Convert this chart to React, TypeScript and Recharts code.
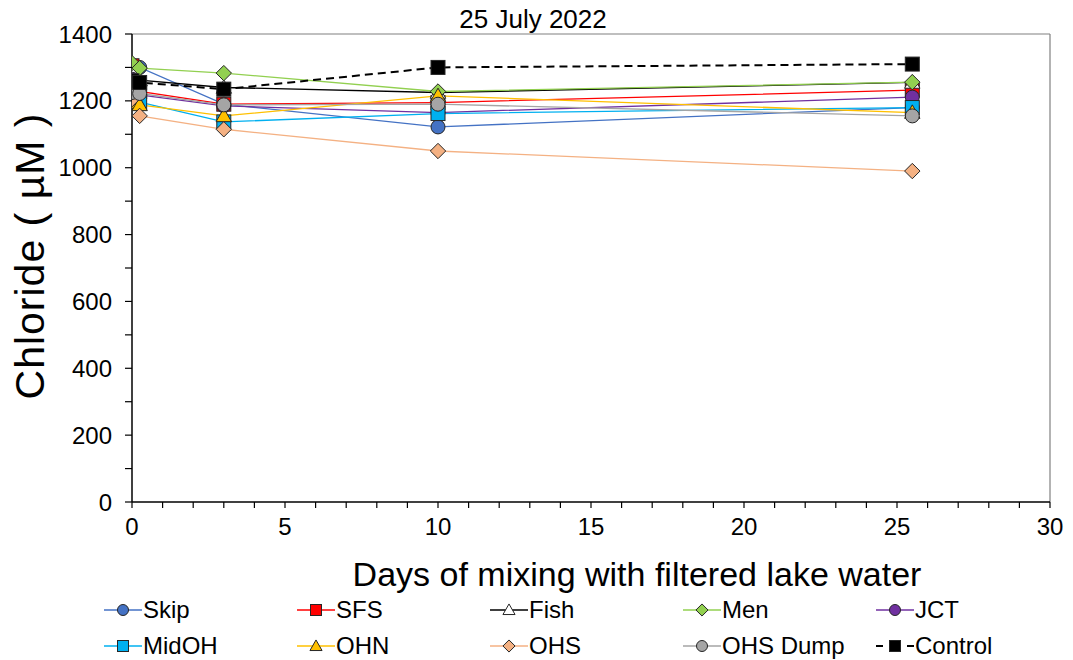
import React from 'react';
import { LineChart, Line, XAxis, YAxis, ReferenceLine } from 'recharts';

const days = [0, 0.25, 3, 10, 25.5];
const skip = [1295, 1300, 1190, 1122, 1180];
const sfs = [1305, 1228, 1190, 1195, 1232];
const fish = [1290, 1262, 1240, 1225, 1255];
const men = [1313, 1298, 1283, 1228, 1256];
const jct = [1265, 1218, 1185, 1165, 1211];
const midoh = [1205, 1196, 1137, 1162, 1180];
const ohn = [1195, 1188, 1155, 1215, 1165];
const ohs = [1205, 1155, 1115, 1050, 990];
const ohsDump = [1225, 1222, 1188, 1190, 1155];
const control = [1260, 1255, 1235, 1300, 1310];

const xTicks = Array.from({ length: 31 }, (_, i) => i);
const yTicks = Array.from({ length: 15 }, (_, i) => i * 100);

type Shape = 'circle' | 'square' | 'triangle' | 'diamond';
interface SeriesDef { key: string; name: string; values: number[]; line: string; fill: string; shape: Shape; dashed?: boolean; width?: number; }

const series: SeriesDef[] = [
  { key: 'skip', name: 'Skip', values: skip, line: '#4472C4', fill: '#4472C4', shape: 'circle' },
  { key: 'sfs', name: 'SFS', values: sfs, line: '#FF0000', fill: '#FF0000', shape: 'square' },
  { key: 'fish', name: 'Fish', values: fish, line: '#000000', fill: '#FFFFFF', shape: 'triangle' },
  { key: 'men', name: 'Men', values: men, line: '#92D050', fill: '#92D050', shape: 'diamond' },
  { key: 'jct', name: 'JCT', values: jct, line: '#7030A0', fill: '#7030A0', shape: 'circle' },
  { key: 'midoh', name: 'MidOH', values: midoh, line: '#00B0F0', fill: '#00B0F0', shape: 'square' },
  { key: 'ohn', name: 'OHN', values: ohn, line: '#FFC000', fill: '#FFC000', shape: 'triangle' },
  { key: 'ohs', name: 'OHS', values: ohs, line: '#F4B183', fill: '#F4B183', shape: 'diamond' },
  { key: 'ohsDump', name: 'OHS Dump', values: ohsDump, line: '#A5A5A5', fill: '#A5A5A5', shape: 'circle' },
  { key: 'control', name: 'Control', values: control, line: '#000000', fill: '#000000', shape: 'square', dashed: true, width: 2 },
];

const data = days.map((d, i) => {
  const row: Record<string, number> = { day: d };
  series.forEach((s) => { row[s.key] = s.values[i]; });
  return row;
});

function MarkerShape({ cx, cy, shape, fill, size }: { cx: number; cy: number; shape: Shape; fill: string; size: number }) {
  const h = size / 2;
  const stroke = '#262626';
  if (shape === 'circle') return <circle cx={cx} cy={cy} r={h} fill={fill} stroke={stroke} strokeWidth={1} />;
  if (shape === 'square') return <rect x={cx - h} y={cy - h} width={size} height={size} fill={fill} stroke={stroke} strokeWidth={1} />;
  if (shape === 'triangle') {
    const t = size * 0.55;
    return <polygon points={`${cx},${cy - t} ${cx + t},${cy + t * 0.75} ${cx - t},${cy + t * 0.75}`} fill={fill} stroke={stroke} strokeWidth={1} />;
  }
  const d = size * 0.55;
  return <polygon points={`${cx},${cy - d} ${cx + d},${cy} ${cx},${cy + d} ${cx - d},${cy}`} fill={fill} stroke={stroke} strokeWidth={1} />;
}

const makeDot = (s: SeriesDef) => (p: any) => {
  if (p.cx == null || p.cy == null) return <g key={`e-${s.key}-${p.index}`} />;
  return (
    <g key={`${s.key}-${p.index}`}>
      <MarkerShape cx={p.cx} cy={p.cy} shape={s.shape} fill={s.fill} size={14} />
    </g>
  );
};

const font = '"Liberation Sans", Arial, sans-serif';

function LegendItem({ s }: { s: SeriesDef }) {
  return (
    <div style={{ display: 'flex', alignItems: 'center', height: 36 }}>
      <svg width={38} height={20} style={{ flex: 'none' }}>
        {s.dashed ? (
          <>
            <line x1={0} y1={10} x2={7} y2={10} stroke={s.line} strokeWidth={2} />
            <line x1={31} y1={10} x2={38} y2={10} stroke={s.line} strokeWidth={2} />
          </>
        ) : (
          <line x1={0} y1={10} x2={38} y2={10} stroke={s.line} strokeWidth={1.3} />
        )}
        <MarkerShape cx={19} cy={10} shape={s.shape} fill={s.fill} size={11} />
      </svg>
      <span style={{ marginLeft: 1, fontSize: 24, fontFamily: font, color: '#000', whiteSpace: 'nowrap' }}>{s.name}</span>
    </div>
  );
}

export default function App() {
  const tickStyle = { fontSize: 24, fill: '#000', fontFamily: font };
  return (
    <div style={{ position: 'absolute', left: 0, top: 0, width: 1073, height: 660, background: '#fff', fontFamily: font }}>
      <LineChart width={1073} height={660} data={data} margin={{ top: 34, right: 23, left: 0, bottom: 108 }}>
        <XAxis
          dataKey="day"
          type="number"
          domain={[0, 30]}
          ticks={xTicks}
          interval={0}
          tickFormatter={(v: number) => (v % 5 === 0 ? String(v) : '')}
          tick={tickStyle}
          tickSize={6}
          tickMargin={10}
          height={50}
          axisLine={{ stroke: '#000', strokeWidth: 1.5 }}
          tickLine={{ stroke: '#000', strokeWidth: 1.2 }}
          allowDataOverflow
        />
        <YAxis
          type="number"
          domain={[0, 1400]}
          ticks={yTicks}
          interval={0}
          tickFormatter={(v: number) => (v % 200 === 0 ? String(v) : '')}
          tick={tickStyle}
          tickSize={7}
          tickMargin={13}
          width={132}
          axisLine={{ stroke: '#000', strokeWidth: 1.5 }}
          tickLine={{ stroke: '#000', strokeWidth: 1.2 }}
          allowDataOverflow
        />
        <ReferenceLine y={1400} stroke="#808080" strokeWidth={1.2} />
        <ReferenceLine x={30} stroke="#808080" strokeWidth={1.2} />
        {series.map((s) => (
          <Line
            key={s.key}
            dataKey={s.key}
            name={s.name}
            type="linear"
            stroke={s.line}
            strokeWidth={s.width ?? 1.3}
            strokeDasharray={s.dashed ? '8 5' : undefined}
            dot={makeDot(s)}
            activeDot={false}
            isAnimationActive={false}
          />
        ))}
      </LineChart>
      <div style={{ position: 'absolute', left: 533, top: 3, transform: 'translateX(-50%)', fontSize: 26, whiteSpace: 'nowrap', lineHeight: '32px' }}>
        25 July 2022
      </div>
      <div style={{ position: 'absolute', left: 637, top: 554, transform: 'translateX(-50%)', fontSize: 34, whiteSpace: 'nowrap', lineHeight: '40px' }}>
        Days of mixing with filtered lake water
      </div>
      <div style={{ position: 'absolute', left: 30, top: 256, transform: 'translate(-50%, -50%) rotate(-90deg)', fontSize: 41, whiteSpace: 'nowrap', lineHeight: '46px', letterSpacing: 1 }}>
        Chloride ( µM )
      </div>
      <div style={{ position: 'absolute', left: 104, top: 592, display: 'grid', gridTemplateColumns: 'repeat(5, 193px)', rowGap: 0 }}>
        {series.map((s) => (
          <LegendItem key={s.key} s={s} />
        ))}
      </div>
    </div>
  );
}
